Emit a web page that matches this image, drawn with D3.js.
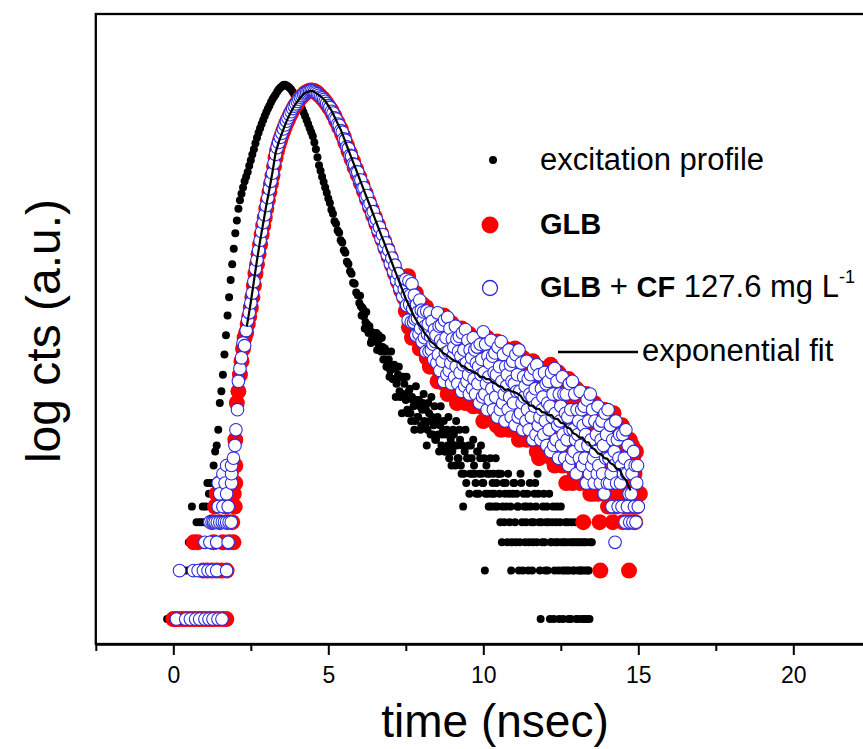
<!DOCTYPE html>
<html><head><meta charset="utf-8">
<script src="https://cdn.jsdelivr.net/npm/d3@7"></script>
<style>body{margin:0;background:#fff}svg{display:block;font-family:Arial,"Liberation Sans",sans-serif}</style>
</head><body><svg id="c" width="863" height="749"></svg>
<script>
// ---- data (time in ns, counts) ----
const xTicks=[0,5,10,15,20];
const xMinorTicks=[-2.5,2.5,7.5,12.5,17.5,22.5];
const xDomain=[-2.5,22.5];
const yDomain=[0.7,5750];
const legendLabels=["excitation profile","GLB","GLB + CF 127.6 mg L","exponential fit"];

const excitation=[[-0.2,1],[-0.05,1],[0.05,1],[0.15,1],[0.25,2],[0.3,1],[0.35,2],[0.4,1],[0.45,2],[0.5,3],[0.55,2],[0.6,5],[0.65,3],[0.7,3],[0.75,4],[0.8,3],[0.85,4],[0.9,4],[0.95,5],[1.0,4],[1.05,5],[1.1,7],[1.15,6],[1.2,7],[1.25,7],[1.3,9],[1.35,11],[1.4,12],[1.45,15],[1.5,22],[1.55,26],[1.6,33],[1.65,44],[1.7,58],[1.75,77],[1.8,100],[1.85,128],[1.9,160],[1.95,200],[2.0,250],[2.05,300],[2.1,355],[2.15,400],[2.2,440],[2.25,480],[2.3,525],[2.35,560],[2.4,600],[2.45,655],[2.5,710],[2.55,770],[2.6,830],[2.65,905],[2.7,980],[2.75,1050],[2.8,1120],[2.85,1190],[2.9,1260],[2.95,1335],[3.0,1410],[3.05,1480],[3.1,1550],[3.15,1625],[3.2,1700],[3.25,1760],[3.3,1820],[3.35,1890],[3.4,1950],[3.45,2000],[3.5,2040],[3.55,2080],[3.6,2090],[3.65,2070],[3.7,2040],[3.75,2000],[3.8,1950],[3.85,1890],[3.9,1820],[3.95,1760],[4.0,1700],[4.05,1625],[4.1,1550],[4.15,1480],[4.2,1410],[4.25,1335],[4.3,1260],[4.35,1190],[4.4,1120],[4.45,1060],[4.5,1000],[4.55,915],[4.6,830],[4.65,740],[4.7,660],[4.75,610],[4.8,560],[4.85,520],[4.9,480],[4.95,445],[5.0,410],[5.05,385],[5.1,350],[5.15,330],[5.2,296],[5.25,286],[5.3,260],[5.35,251],[5.4,226],[5.45,219],[5.5,196],[5.55,189],[5.6,166],[5.65,161],[5.7,145],[5.75,140],[5.8,123],[5.85,121],[5.9,107],[5.95,103],[6.0,92],[6.05,88],[6.1,86],[6.15,76],[6.2,70],[6.25,68],[6.3,60],[6.35,62],[6.4,54],[6.45,55],[6.5,58],[6.55,60],[6.6,52],[6.65,55],[6.7,46],[6.75,49],[6.8,41],[6.85,46],[6.9,37],[6.95,41],[7.0,35],[7.05,37],[7.1,31],[7.15,36],[7.2,29],[7.25,33],[7.3,26],[7.35,32],[7.4,25],[7.45,29],[7.5,23],[7.55,20],[7.6,26],[7.65,19],[7.7,24],[7.75,21],[7.8,17],[7.85,23],[7.9,18],[7.95,21],[8.0,16],[8.05,22],[8.1,17],[8.15,20],[8.2,15],[8.25,19],[8.3,14],[8.35,18],[8.4,16],[8.45,13],[8.5,17],[8.55,14],[8.6,16],[8.65,12],[8.7,15],[8.75,11],[8.8,14],[8.85,12],[8.9,10],[8.95,13],[9.0,11],[9.05,14],[9.1,9],[9.15,12],[9.2,10],[9.25,13],[9.3,8],[9.35,5],[9.4,11],[9.45,7],[9.5,10],[9.55,6],[9.6,12],[9.65,8],[9.7,9],[9.75,7],[9.8,11],[9.85,6],[9.9,10],[9.95,8],[10.0,7],[10.05,2],[10.1,9],[10.15,6],[10.2,8],[10.25,5],[10.3,7],[10.35,6],[10.4,10],[10.45,5],[10.5,8],[10.55,4],[10.6,3],[10.65,7],[10.7,6],[10.75,5],[10.8,8],[10.85,4],[10.9,2],[10.95,6],[11.0,7],[11.05,3],[11.1,5],[11.15,2],[11.2,8],[11.25,4],[11.3,6],[11.35,3],[11.4,5],[11.45,2],[11.5,7],[11.55,4],[11.6,3],[11.65,6],[11.7,5],[11.75,8],[11.8,4],[11.85,1],[11.9,3],[11.95,6],[12.0,2],[12.05,5],[12.1,4],[12.15,1],[12.2,3],[12.25,5],[12.3,2],[12.35,4],[12.4,3],[12.45,1],[12.5,5],[12.55,2],[12.6,3],[12.65,4],[12.7,2],[12.75,1],[12.8,3],[12.85,4],[12.9,2],[12.95,3],[13.0,1],[13.05,2],[13.1,3],[13.15,2],[13.2,1],[13.25,3],[13.3,2],[13.35,1],[13.4,2],[13.45,3],[13.5,3],
[6.025,102],[6.075,77],[6.125,84],[6.175,64],[6.225,81],[6.275,62],[6.325,66],[6.375,52],[6.425,57],[6.475,60],[6.525,55],[6.575,47],[6.625,58],[6.675,49],[6.725,56],[6.775,41],[6.825,48],[6.875,37],[6.925,41],[6.975,32],[7.025,46],[7.075,31],[7.125,38],[7.175,24],[7.225,31],[7.275,37],[7.325,24],[7.375,19],[7.425,32],[7.475,24],[7.525,32],[7.575,19],[7.625,27],[7.675,17],[7.725,23],[7.775,15],[7.825,28],[7.875,18],[7.925,23],[7.975,15],[8.025,20],[8.075,25],[8.125,16],[8.175,12],[8.225,22],[8.275,17],[8.325,24],[8.375,14],[8.425,21],[8.475,13],[8.525,18],[8.575,11],[8.625,21],[8.675,14],[8.725,17],[8.775,11],[8.825,15],[8.875,18],[8.925,11],[8.975,9],[9.025,15],[9.075,12],[9.125,17],[9.175,10],[9.225,15],[9.275,9],[9.325,12],[9.375,8],[9.425,15],[9.475,10],[9.525,12],[9.575,8],[9.625,10],[9.675,13],[9.725,8],[9.775,6],[9.825,11],[9.875,8],[9.925,12],[9.975,7],[10.025,10],[10.075,6],[10.125,8],[10.175,5],[10.225,10],[10.275,6],[10.325,8],[10.375,5],[10.425,7],[10.475,8],[10.525,6],[10.575,8],[10.625,5],[10.675,4],[10.725,7],[10.775,3],[10.825,6],[10.875,5],[10.925,3],[10.975,7],[11.025,4],[11.075,6],[11.125,5],[11.175,3],[11.225,7],[11.275,2],[11.325,5],[11.375,4],[11.425,6],[11.475,3],[11.525,5],[11.575,2],[11.625,4],[11.675,7],[11.725,3],[11.775,6],[11.825,2],[11.875,4],[11.925,5],[11.975,3],[12.025,4],[12.075,2],[12.125,6],[12.175,3],[12.225,4],[12.275,1],[12.325,3],[12.375,5],[12.425,2],[12.475,4],[12.525,3],[12.575,1],[12.625,2],[12.675,3],[12.725,4],[12.775,2],[12.825,1],[12.875,3],[12.925,2],[12.975,4],[13.025,3],[13.075,1],[13.125,2],[13.175,3],[13.225,2],[13.275,1],[13.325,3],[13.375,2],[13.425,1]];

const glb=[[0.0,1],[0.08,1],[0.18,1],[0.3,1],[0.42,1],[0.55,1],[0.66,3],[0.68,1],[0.78,3],[0.8,1],[0.92,1],[0.96,2],[1.05,1],[1.1,2],[1.18,1],[1.25,2],[1.25,4],[1.3,1],[1.3,3],[1.35,5],[1.4,2],[1.4,6],[1.45,1],[1.5,4],[1.5,7],[1.55,2],[1.6,1],[1.6,3],[1.7,5],[1.71,1],[1.72,2],[1.75,4],[1.8,3],[1.85,8],[1.9,4],[1.9,7],[1.94,3],[1.95,6],[1.98,5],[2.0,7],[2.0,9],[2.0,13],[2.05,22],[2.1,26],[2.15,33],[2.2,40],[2.25,48],[2.3,56],[2.35,60],[2.4,68],[2.45,76],[2.5,86],[2.55,100],[2.6,118],[2.65,140],[2.7,160],[2.75,185],[2.8,212],[2.85,245],[2.9,278],[2.95,312],[3.0,355],[3.05,400],[3.1,450],[3.15,505],[3.2,570],[3.25,650],[3.3,735],[3.35,815],[3.4,885],[3.45,950],[3.5,1015],[3.55,1080],[3.6,1145],[3.65,1210],[3.7,1270],[3.75,1335],[3.8,1395],[3.85,1455],[3.9,1515],[3.95,1570],[4.0,1620],[4.05,1680],[4.1,1730],[4.15,1770],[4.2,1810],[4.25,1850],[4.3,1880],[4.35,1900],[4.4,1915],[4.45,1925],[4.5,1920],[4.55,1905],[4.6,1880],[4.65,1850],[4.7,1810],[4.75,1770],[4.8,1730],[4.85,1690],[4.9,1640],[4.95,1590],[5.0,1540],[5.05,1490],[5.1,1450],[5.15,1370],[5.2,1335],[5.25,1250],[5.3,1215],[5.35,1135],[5.4,1110],[5.45,1030],[5.5,990],[5.55,915],[5.6,880],[5.65,810],[5.7,785],[5.75,720],[5.8,700],[5.85,640],[5.9,625],[5.95,575],[6.0,560],[6.05,510],[6.1,498],[6.15,455],[6.2,445],[6.25,405],[6.3,395],[6.35,360],[6.4,352],[6.45,320],[6.5,315],[6.55,285],[6.6,282],[6.65,252],[6.7,250],[6.75,226],[6.8,224],[6.85,200],[6.9,200],[6.95,178],[7.0,178],[7.05,158],[7.1,158],[7.15,140],[7.2,141],[7.25,124],[7.3,126],[7.35,110],[7.4,113],[7.45,99],
[7.5,82],[7.525,134],[7.55,90],[7.575,135],[7.6,65],[7.625,101],[7.65,75],[7.675,109],[7.7,56],[7.725,83],[7.75,97],[7.775,58],[7.8,82],[7.825,106],[7.85,61],[7.875,75],[7.9,64],[7.925,91],[7.95,48],[7.975,78],[8.0,52],[8.025,91],[8.05,61],[8.075,51],[8.1,84],[8.125,57],[8.15,87],[8.175,42],[8.2,66],[8.225,50],[8.25,72],[8.275,37],[8.3,55],[8.325,66],[8.35,40],[8.375,57],[8.4,75],[8.425,43],[8.45,53],[8.475,46],[8.5,73],[8.525,30],[8.55,60],[8.575,35],[8.6,77],[8.625,45],[8.65,35],[8.675,72],[8.7,42],[8.725,77],[8.75,29],[8.775,54],[8.8,37],[8.825,63],[8.85,25],[8.875,45],[8.9,58],[8.925,29],[8.95,48],[8.975,69],[9.0,32],[9.025,44],[9.05,36],[9.075,60],[9.1,25],[9.125,50],[9.15,22],[9.175,64],[9.2,38],[9.225,30],[9.25,61],[9.275,36],[9.3,64],[9.325,24],[9.35,45],[9.375,31],[9.4,54],[9.425,22],[9.45,38],[9.475,49],[9.5,24],[9.525,41],[9.55,59],[9.575,28],[9.6,38],[9.625,31],[9.65,51],[9.675,21],[9.7,43],[9.725,24],[9.75,55],[9.775,32],[9.8,26],[9.825,52],[9.85,31],[9.875,55],[9.9,21],[9.925,39],[9.95,27],[9.975,46],[10.0,17],[10.025,34],[10.05,45],[10.075,20],[10.1,36],[10.125,56],[10.15,23],[10.175,34],[10.2,27],[10.225,48],[10.25,18],[10.275,39],[10.3,20],[10.325,51],[10.35,28],[10.375,21],[10.4,49],[10.425,16],[10.45,53],[10.475,17],[10.5,35],[10.525,23],[10.55,43],[10.575,15],[10.6,29],[10.625,39],[10.65,17],[10.675,31],[10.7,48],[10.725,20],[10.75,29],[10.775,23],[10.8,42],[10.825,15],[10.85,34],[10.875,18],[10.9,45],[10.925,25],[10.95,19],[10.975,43],[11.0,24],[11.025,48],[11.05,15],[11.075,32],[11.1,20],[11.125,38],[11.15,13],[11.175,26],[11.2,35],[11.225,15],[11.25,28],[11.275,42],[11.3,17],[11.325,25],[11.35,19],[11.375,35],[11.4,13],[11.425,28],[11.45,15],[11.475,37],[11.5,20],[11.525,16],[11.55,36],[11.575,20],[11.6,40],[11.625,13],[11.65,26],[11.675,17],[11.7,31],[11.725,11],[11.75,21],[11.775,29],[11.8,10],[11.825,23],[11.85,36],[11.875,15],[11.9,21],[11.925,17],[11.95,30],[11.975,11],[12.0,26],[12.025,12],[12.05,35],[12.075,18],[12.1,13],[12.125,33],[12.15,17],[12.175,38],[12.2,10],[12.225,23],[12.25,14],[12.275,29],[12.3,9],[12.325,19],[12.35,26],[12.375,11],[12.4,21],[12.425,34],[12.45,12],[12.475,19],[12.5,14],[12.525,28],[12.55,9],[12.575,22],[12.6,11],[12.625,30],[12.65,15],[12.675,7],[12.7,28],[12.725,14],[12.75,31],[12.775,9],[12.8,20],[12.825,12],[12.85,24],[12.875,7],[12.9,15],[12.925,21],[12.95,8],[12.975,17],[13.0,27],[13.025,10],[13.05,15],[13.075,11],[13.1,22],[13.125,7],[13.15,18],[13.175,9],[13.2,25],[13.225,4],[13.25,9],[13.275,23],[13.3,12],[13.325,25],[13.35,7],[13.375,16],[13.4,10],[13.425,20],[13.45,6],[13.475,13],[13.5,21],[13.525,7],[13.55,6],[13.575,22],[13.6,8],[13.625,12],[13.65,9],[13.675,18],[13.7,6],[13.725,14],[13.75,4],[13.775,2],[13.8,10],[13.825,7],[13.85,19],[13.875,9],[13.9,20],[13.925,6],[13.95,13],[13.975,8],[14.0,16],[14.025,5],[14.05,10],[14.075,14],[14.1,6],[14.125,11],[14.15,18],[14.175,4],[14.2,19],[14.225,8],[14.25,15],[14.275,5],[14.3,11],[14.325,6],[14.35,16],[14.375,8],[14.4,6],[14.425,15],[14.45,7],[14.475,16],[14.5,4],[14.525,10],[14.55,6],[14.575,12],[14.6,5],[14.625,8],[14.65,10],[14.675,4],[14.7,2],[14.725,13],[14.75,5],[14.775,7],[14.8,12],[14.825,10],[14.85,4],[14.875,8],[14.9,4],[14.925,11],[14.95,5],[14.975,6],[15.0,6],[15.05,6]];

const glbCF=[[0.1,1],[0.2,2],[0.4,1],[0.55,1],[0.65,2],[0.72,1],[0.8,2],[0.85,1],[0.97,2],[1.02,1],[1.02,3],[1.12,2],[1.15,1],[1.18,3],[1.18,4],[1.24,2],[1.25,4],[1.28,1],[1.3,4],[1.35,4],[1.4,2],[1.4,3],[1.42,4],[1.44,1],[1.45,5],[1.45,7],[1.5,4],[1.5,6],[1.57,1],[1.58,4],[1.6,5],[1.6,8],[1.65,4],[1.67,7],[1.72,2],[1.72,4],[1.72,6],[1.72,9],[1.77,3],[1.77,5],[1.8,4],[1.87,4],[1.88,7],[1.88,8],[1.88,9],[1.94,10],[1.99,12],[2.02,15],[2.07,20],[2.1,30],[2.15,36],[2.2,42],[2.25,52],[2.3,50],[2.35,62],[2.4,72],[2.45,80],[2.5,92],[2.55,106],[2.6,125],[2.65,150],[2.7,170],[2.75,195],[2.8,225],[2.85,255],[2.9,290],[2.95,325],[3.0,370],[3.05,415],[3.1,470],[3.15,525],[3.2,590],[3.25,680],[3.3,770],[3.35,850],[3.4,915],[3.45,985],[3.5,1045],[3.55,1110],[3.6,1175],[3.65,1240],[3.7,1300],[3.75,1360],[3.8,1420],[3.85,1485],[3.9,1540],[3.95,1590],[4.0,1645],[4.05,1700],[4.1,1750],[4.15,1790],[4.2,1830],[4.25,1860],[4.3,1880],[4.35,1900],[4.4,1910],[4.45,1920],[4.5,1910],[4.55,1890],[4.6,1870],[4.65,1840],[4.7,1800],[4.75,1760],[4.8,1730],[4.85,1690],[4.9,1650],[4.95,1600],[5.0,1550],[5.05,1510],[5.1,1430],[5.15,1395],[5.2,1300],[5.25,1280],[5.3,1190],[5.35,1170],[5.4,1085],[5.45,1060],[5.5,965],[5.55,945],[5.6,860],[5.65,840],[5.7,760],[5.75,750],[5.8,675],[5.85,665],[5.9,600],[5.95,600],[6.0,535],[6.05,535],[6.1,475],[6.15,478],[6.2,420],[6.25,428],[6.3,372],[6.35,382],[6.4,335],[6.45,340],[6.5,296],[6.55,305],[6.6,262],[6.65,272],[6.7,232],[6.75,245],[6.8,205],[6.85,218],[6.9,184],[6.95,196],[7.0,162],[7.05,175],[7.1,145],[7.15,158],[7.2,128],[7.25,140],[7.3,114],[7.35,125],[7.4,101],[7.45,112],
[7.5,129],[7.525,89],[7.55,104],[7.575,72],[7.6,126],[7.625,90],[7.65,103],[7.675,70],[7.7,121],[7.725,85],[7.75,70],[7.775,103],[7.8,73],[7.825,58],[7.85,90],[7.875,74],[7.9,81],[7.925,59],[7.95,96],[7.975,64],[8.0,83],[8.025,53],[8.05,71],[8.075,81],[8.1,56],[8.125,66],[8.15,46],[8.175,82],[8.2,59],[8.225,68],[8.25,46],[8.275,80],[8.3,57],[8.325,47],[8.35,71],[8.375,51],[8.4,41],[8.425,63],[8.45,53],[8.475,58],[8.5,39],[8.525,80],[8.55,44],[8.575,66],[8.6,35],[8.625,54],[8.65,67],[8.675,40],[8.7,51],[8.725,30],[8.75,72],[8.775,45],[8.8,56],[8.825,33],[8.85,75],[8.875,46],[8.9,35],[8.925,64],[8.95,39],[8.975,29],[9.0,55],[9.025,43],[9.05,49],[9.075,32],[9.1,66],[9.125,37],[9.15,55],[9.175,29],[9.2,46],[9.225,57],[9.25,34],[9.275,43],[9.3,26],[9.325,60],[9.35,38],[9.375,47],[9.4,28],[9.425,63],[9.45,39],[9.475,30],[9.5,54],[9.525,33],[9.55,25],[9.575,47],[9.6,37],[9.625,42],[9.65,27],[9.675,56],[9.7,31],[9.725,47],[9.75,25],[9.775,39],[9.8,49],[9.825,29],[9.85,37],[9.875,22],[9.9,51],[9.925,33],[9.95,41],[9.975,24],[10.0,61],[10.025,34],[10.05,25],[10.075,51],[10.1,29],[10.125,20],[10.15,43],[10.175,32],[10.2,39],[10.225,23],[10.25,54],[10.275,27],[10.3,43],[10.325,20],[10.35,34],[10.375,45],[10.4,24],[10.425,33],[10.45,18],[10.475,49],[10.5,28],[10.525,37],[10.55,20],[10.575,53],[10.6,30],[10.625,22],[10.65,44],[10.675,25],[10.7,17],[10.725,37],[10.75,28],[10.775,33],[10.8,20],[10.825,47],[10.85,24],[10.875,38],[10.9,18],[10.925,30],[10.95,40],[10.975,22],[11.0,29],[11.025,16],[11.05,44],[11.075,26],[11.1,33],[11.125,18],[11.15,47],[11.175,26],[11.2,19],[11.225,39],[11.25,22],[11.275,15],[11.3,32],[11.325,24],[11.35,28],[11.375,17],[11.4,40],[11.425,20],[11.45,31],[11.475,15],[11.5,25],[11.525,33],[11.55,18],[11.575,24],[11.6,13],[11.625,36],[11.65,21],[11.675,27],[11.7,14],[11.725,38],[11.75,22],[11.775,16],[11.8,33],[11.825,18],[11.85,13],[11.875,27],[11.9,20],[11.925,24],[11.95,14],[11.975,34],[12.0,17],[12.025,29],[12.05,12],[12.075,22],[12.1,30],[12.125,15],[12.15,21],[12.175,11],[12.2,34],[12.225,18],[12.25,25],[12.275,12],[12.3,36],[12.325,19],[12.35,13],[12.375,30],[12.4,16],[12.425,10],[12.45,25],[12.475,17],[12.5,21],[12.525,12],[12.55,32],[12.575,14],[12.6,25],[12.625,10],[12.65,19],[12.675,25],[12.7,13],[12.725,18],[12.75,9],[12.775,29],[12.8,15],[12.825,20],[12.85,10],[12.875,30],[12.9,15],[12.925,11],[12.95,25],[12.975,13],[13.0,8],[13.025,20],[13.05,14],[13.075,17],[13.1,10],[13.125,26],[13.15,12],[13.175,20],[13.2,9],[13.225,16],[13.25,21],[13.275,10],[13.3,14],[13.325,7],[13.35,23],[13.375,12],[13.4,17],[13.425,8],[13.45,25],[13.475,13],[13.5,9],[13.525,20],[13.55,10],[13.575,7],[13.6,17],[13.625,11],[13.65,14],[13.675,8],[13.7,21],[13.725,9],[13.75,16],[13.775,7],[13.8,13],[13.825,17],[13.85,8],[13.875,12],[13.9,6],[13.925,19],[13.95,10],[13.975,14],[14.0,7],[14.025,20],[14.05,10],[14.075,7],[14.1,16],[14.125,8],[14.15,5],[14.175,13],[14.2,9],[14.225,11],[14.25,3],[14.275,17],[14.3,7],[14.325,13],[14.35,5],[14.375,10],[14.4,14],[14.425,7],[14.45,9],[14.475,5],[14.5,14],[14.525,8],[14.55,10],[14.575,4],[14.6,15],[14.625,8],[14.65,5],[14.675,12],[14.7,6],[14.725,4],[14.75,9],[14.775,6],[14.8,8],[14.825,4],[14.85,11],[14.875,5],[14.9,9],[14.925,4],[14.95,7],[14.975,9],[15.0,5]];

const expFit=[[2.37,66],[2.4,71],[2.5,93],[2.6,126],[2.7,170],[2.8,224],[2.9,288],[3.0,372],[3.1,468],[3.2,600],[3.3,790],[3.4,920],[3.5,1040],[3.6,1170],[3.7,1300],[3.8,1420],[3.9,1540],[4.0,1640],[4.1,1740],[4.2,1830],[4.3,1880],[4.4,1905],[4.5,1905],[4.6,1860],[4.7,1800],[4.8,1740],[4.9,1660],[5.0,1550],[5.1,1445],[5.2,1320],[5.3,1200],[5.4,1100],[5.5,980],[5.6,870],[5.7,775],[5.8,690],[5.9,617],[6.0,550],[6.1,490],[6.2,436],[6.3,389],[6.4,347],[6.5,309],[6.6,275],[6.7,245],[6.8,219],[6.9,195],[7.0,174],[7.1,155],[7.2,138],[7.3,123],[7.4,110],[7.5,98],[7.6,89],[7.7,81],[7.8,74],[7.9,69],[8.0,65],[8.1,60],[8.2,57],[8.3,53],[8.4,51.5],[8.5,49],[8.6,47.5],[8.7,45],[8.8,44],[8.9,42.5],[9.0,41],[9.1,40],[9.2,39.5],[9.3,37.5],[9.4,37],[9.5,35.5],[9.6,35],[9.7,34],[9.8,33.5],[9.9,32],[10.0,32],[10.1,31],[10.2,31],[10.3,29.5],[10.4,29],[10.5,28],[10.6,27.8],[10.7,26.5],[10.8,26.8],[10.9,26],[11.0,25.7],[11.1,25.2],[11.2,24.5],[11.3,22.8],[11.4,22.3],[11.5,21.2],[11.6,21.2],[11.7,20.3],[11.8,20.2],[11.9,19.3],[12.0,19.2],[12.1,18.5],[12.2,18.5],[12.3,17.6],[12.4,17.5],[12.5,16.6],[12.6,16.4],[12.7,15.5],[12.8,15.3],[12.9,14.3],[13.0,14],[13.1,13.4],[13.2,13.4],[13.3,12.6],[13.4,12.5],[13.5,11.6],[13.6,11.3],[13.7,10.7],[13.8,10.6],[13.9,10.0],[14.0,9.9],[14.1,9.3],[14.2,9.1],[14.3,8.6],[14.4,8.5],[14.5,7.7],[14.6,7.3],[14.7,6.6],[14.75,6.3]];

// ---- drawing ----
const svg=d3.select("#c");
const L=95.8,R=870.8,T=14,B=644;
const x=d3.scaleLinear().domain(xDomain).range([L,R]);
const y=d3.scaleLog().domain(yDomain).range([B,T]);

svg.append("rect").attr("width",863).attr("height",749).attr("fill","#fff");

const plot=svg.append("g");
plot.append("g").selectAll("circle").data(excitation).join("circle")
  .attr("cx",d=>x(d[0])).attr("cy",d=>y(d[1])).attr("r",4).attr("fill","#000");
plot.append("g").selectAll("circle").data(glb).join("circle")
  .attr("cx",d=>x(d[0])).attr("cy",d=>y(d[1])).attr("r",8).attr("fill","#ff0000");
plot.append("g").selectAll("circle").data(glbCF).join("circle")
  .attr("cx",d=>x(d[0])).attr("cy",d=>y(d[1])).attr("r",6.3).attr("fill","#fff")
  .attr("stroke","#2b2bdc").attr("stroke-width",1.1);
plot.append("path").datum(expFit)
  .attr("d",d3.line().x(d=>x(d[0])).y(d=>y(d[1])))
  .attr("fill","none").attr("stroke","#000").attr("stroke-width",2.2);

// frame
svg.append("rect").attr("x",L).attr("y",T).attr("width",R-L).attr("height",B-T)
  .attr("fill","none").attr("stroke","#000").attr("stroke-width",2.3);

// axis
const ax=svg.append("g").attr("transform",`translate(0,${B})`)
  .call(d3.axisBottom(x).tickValues(xTicks).tickSize(11).tickSizeOuter(0).tickPadding(12));
ax.select(".domain").attr("stroke-width",2.3);
ax.selectAll(".tick line").attr("stroke-width",2);
ax.selectAll(".tick text").attr("font-size",23).attr("font-family","Arial, 'Liberation Sans', sans-serif").attr("fill","#000");
const axm=svg.append("g").attr("transform",`translate(0,${B})`)
  .call(d3.axisBottom(x).tickValues(xMinorTicks).tickSize(7).tickSizeOuter(0).tickFormat(""));
axm.select(".domain").remove();
axm.selectAll(".tick line").attr("stroke-width",2);

// titles
svg.append("text").attr("x",495).attr("y",737).attr("text-anchor","middle")
  .attr("font-size",46).text("time (nsec)");
svg.append("text").attr("transform","translate(60,331) rotate(-90)").attr("text-anchor","middle")
  .attr("font-size",48).text("log cts (a.u.)");

// legend
const lg=svg.append("g").attr("font-size",31);
lg.append("circle").attr("cx",493).attr("cy",160).attr("r",4).attr("fill","#000");
lg.append("text").attr("x",540).attr("y",170).text(legendLabels[0]);
lg.append("circle").attr("cx",490).attr("cy",225).attr("r",8.5).attr("fill","#ff0000");
lg.append("text").attr("x",540).attr("y",234).attr("font-weight","bold").attr("font-size",29).text(legendLabels[1]);
lg.append("circle").attr("cx",490).attr("cy",288).attr("r",7.5).attr("fill","#fff").attr("stroke","#2b2bdc").attr("stroke-width",1.3);
const t3=lg.append("text").attr("x",540).attr("y",297);
t3.append("tspan").attr("font-weight","bold").attr("font-size",29).text("GLB");
t3.append("tspan").text(" + ");
t3.append("tspan").attr("font-weight","bold").attr("font-size",29).text("CF");
t3.append("tspan").text(" 127.6 mg L");
t3.append("tspan").attr("font-size",18).attr("dy",-14).text("-1");
lg.append("line").attr("x1",558).attr("x2",638).attr("y1",352).attr("y2",352).attr("stroke","#000").attr("stroke-width",2.3);
lg.append("text").attr("x",642).attr("y",361).text(legendLabels[3]);
</script></body></html>
